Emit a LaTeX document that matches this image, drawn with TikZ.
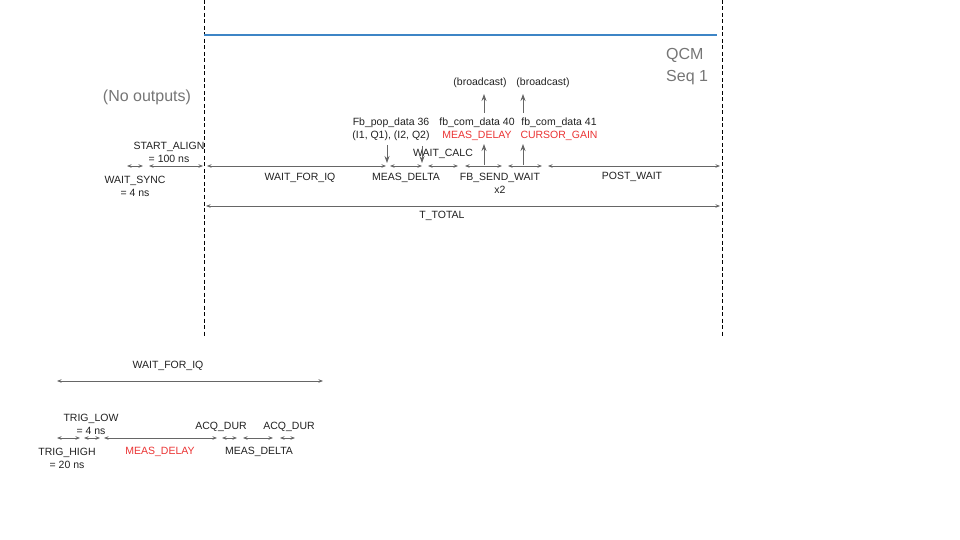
\documentclass[tikz,border=0pt]{standalone}
\usepackage{fontspec}
\setmainfont{Liberation Sans}
\usetikzlibrary{arrows.meta}

\definecolor{seqblue}{RGB}{61,133,198}
\definecolor{hotred}{RGB}{234,51,51}
\definecolor{dimgray}{RGB}{117,117,117}
\definecolor{tickgray}{RGB}{102,102,102}

\tikzset{
  txt/.style={font=\fontsize{10.5}{13}\selectfont, text=black!87, inner sep=0pt, align=center},
  big/.style={font=\fontsize{16}{19}\selectfont, text=dimgray, inner sep=0pt},
  span/.style={tickgray, line width=0.8pt, {Stealth[length=4.5pt,width=3.5pt]}-{Stealth[length=4.5pt,width=3.5pt]}},
  ptr/.style={tickgray, line width=0.8pt, -{Stealth[length=7pt,width=5pt]}},
  fence/.style={black, line width=1pt, dash pattern=on 4pt off 2.5pt},
}

\begin{document}
\begin{tikzpicture}[x=1pt,y=-1pt]
\useasboundingbox (0,0) rectangle (960,540);

% sequencer borders
\coordinate (f1a) at (204,0); \coordinate (f1b) at (204,336);
\coordinate (f2a) at (722,0); \coordinate (f2b) at (722,336);
\draw[fence] (f1a) -- (f1b);
\draw[fence] (f2a) -- (f2b);
\coordinate (b1) at (204,35); \coordinate (b2) at (717,35);
\draw[seqblue, line width=2.6pt] (b1) -- (b2);

\node[big] (noout) at (147,97) {(No outputs)};
\node[big, anchor=west] (qcm) at (666,55) {QCM};
\node[big, anchor=west] (seq) at (666,78) {Seq 1};

% upper timeline
\foreach \n/\x in {a/127, b/143, c/149, d/203, e/207, f/386, g/390, h/422, i/428, j/458, k/465, l/502, m/508, n/542, o/548, p/720}
  \coordinate (t\n) at (\x,166);
\foreach \u/\v in {a/b, c/d, e/f, g/h, i/j, k/l, m/n, o/p}
  \draw[span] (t\u) -- (t\v);

\node[txt] (sync) at (135,186.5) {WAIT\_SYNC\\= 4 ns};
\node[txt] (align) at (169,152) {START\_ALIGN\\= 100 ns};
\node[txt] (wfiq) at (300,178) {WAIT\_FOR\_IQ};
\node[txt] (mdelta) at (406,178) {MEAS\_DELTA};
\node[txt] (wcalc) at (443,154) {WAIT\_CALC};
\node[txt] (fbsend) at (500,183.5) {FB\_SEND\_WAIT\\x2};
\node[txt] (post) at (632,177) {POST\_WAIT};

\node[txt] (pop) at (391,129.5) {Fb\_pop\_data 36\\(I1, Q1), (I2, Q2)};
\node[txt] (com40) at (477,129.5) {fb\_com\_data 40\\\textcolor{hotred}{MEAS\_DELAY}};
\node[txt] (com41) at (559,129.5) {fb\_com\_data 41\\\textcolor{hotred}{CURSOR\_GAIN}};
\node[txt] (bc1) at (480,83) {(broadcast)};
\node[txt] (bc2) at (543,83) {(broadcast)};

% pops and pushes
\coordinate (pa) at (387,145); \coordinate (pb) at (387,163);
\coordinate (ca) at (422,146); \coordinate (cb) at (422,163);
\coordinate (ua) at (484,165); \coordinate (ub) at (484,144);
\coordinate (va) at (523,165); \coordinate (vb) at (523,144);
\coordinate (uc) at (484,113); \coordinate (ud) at (484,94);
\coordinate (vc) at (523,113); \coordinate (vd) at (523,94);
\draw[ptr] (pa) -- (pb);
\draw[ptr] (ca) -- (cb);
\draw[ptr] (ua) -- (ub);
\draw[ptr] (va) -- (vb);
\draw[ptr] (uc) -- (ud);
\draw[ptr] (vc) -- (vd);

% total
\coordinate (ta) at (206,206); \coordinate (tb) at (720,206);
\draw[span] (ta) -- (tb);
\node[txt] (total) at (442,216) {T\_TOTAL};

% lower timeline
\coordinate (wa) at (57,381); \coordinate (wb) at (323,381);
\draw[span] (wa) -- (wb);
\node[txt] (wfiq2) at (168,366) {WAIT\_FOR\_IQ};

\foreach \n/\x in {a/57, b/80, c/84, d/100, e/104, f/217, g/222, h/237, i/243, j/273, k/280, l/295}
  \coordinate (s\n) at (\x,438);
\foreach \u/\v in {a/b, c/d, e/f, g/h, i/j, k/l}
  \draw[span] (s\u) -- (s\v);

\node[txt] (trlow) at (91,424.5) {TRIG\_LOW\\= 4 ns};
\node[txt] (trhigh) at (67,458) {TRIG\_HIGH\\= 20 ns};
\node[txt, text=hotred] (mdelay) at (160,452) {MEAS\_DELAY};
\node[txt] (acq1) at (221,427) {ACQ\_DUR};
\node[txt] (acq2) at (289,427) {ACQ\_DUR};
\node[txt] (mdelta2) at (259,452) {MEAS\_DELTA};
\end{tikzpicture}
\end{document}
